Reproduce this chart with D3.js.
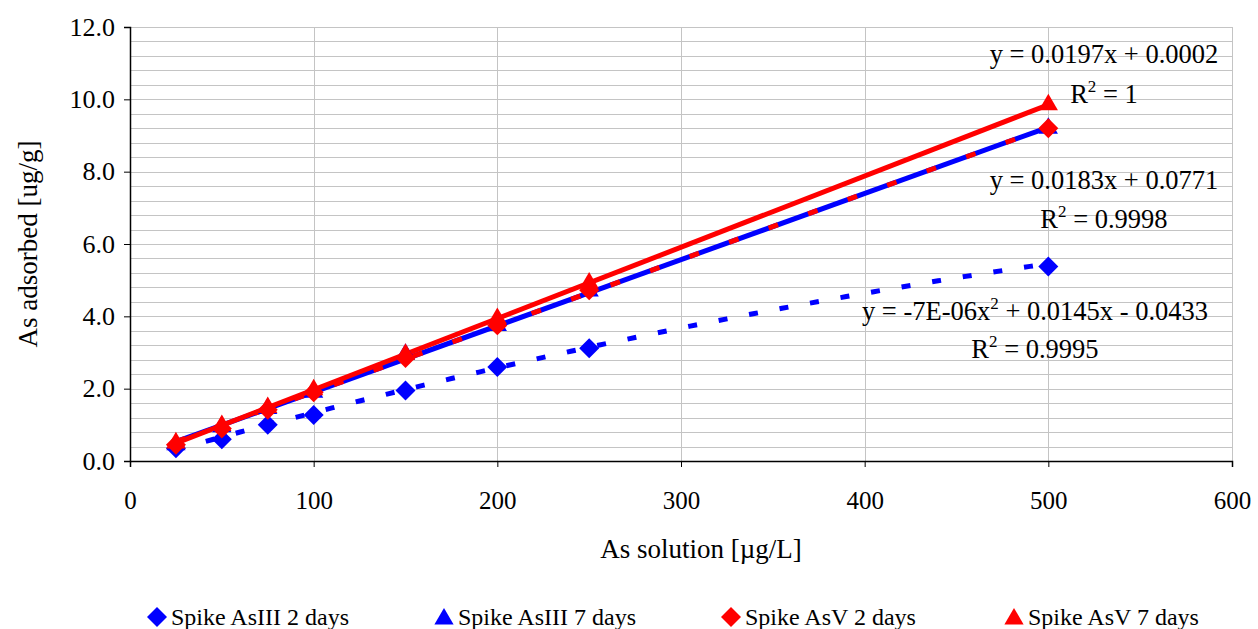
<!DOCTYPE html>
<html>
<head>
<meta charset="utf-8">
<script src="https://cdn.jsdelivr.net/npm/d3@7"></script>
<style>
  body { margin: 0; background: #fff; }
  text { font-family: "Liberation Serif", "Times New Roman", serif; fill: #000; }
</style>
</head>
<body>
<div class="vis-scatter"></div>
<script>
// concentrations in solution (ug/L)
var xValues = [25, 50, 75, 100, 150, 200, 250, 500];

// adsorbed amounts (ug/g)
var asIII2 = [0.35, 0.60, 1.00, 1.27, 1.95, 2.60, 3.12, 5.38];
var asIII7 = [0.45, 0.95, 1.45, 1.90, 2.95, 3.75, 4.70, 9.20];
var asV2   = [0.45, 0.90, 1.42, 1.90, 2.85, 3.75, 4.72, 9.20];
var asV7   = [0.50, 0.98, 1.48, 1.97, 2.95, 3.94, 4.92, 9.85];

var seriesNames = ["Spike AsIII 2 days", "Spike AsIII 7 days", "Spike AsV 2 days", "Spike AsV 7 days"];

var xTicks = [0, 100, 200, 300, 400, 500, 600];
var yTicks = [0, 2, 4, 6, 8, 10, 12];

// trendline coefficients, as printed on the chart
var polyAsIII2 = [-0.000007, 0.0145, -0.0433];
var linAsIII7 = [0.0183, 0.0771];
var linAsV2 = [0.0183, 0.0771];
var linAsV7 = [0.0197, 0.0002];

var W = 1258, H = 629;
var margin = {top: 27, right: 26, bottom: 168, left: 130};
var width = W - margin.left - margin.right,
    height = H - margin.top - margin.bottom;

var svg = d3.select('.vis-scatter').append('svg')
    .attr('width', W)
    .attr('height', H);

var g = svg.append('g')
    .attr('transform', 'translate(' + margin.left + ',' + margin.top + ')');

var x = d3.scaleLinear().domain([0, 600]).range([0, width]);
var y = d3.scaleLinear().domain([0, 12]).range([height, 0]);

// gridlines
g.append('g').selectAll('line')
    .data(d3.range(0.4, 12.01, 0.4))
    .enter().append('line')
    .attr('x1', 0).attr('x2', width)
    .attr('y1', function(d) { return Math.round(y(d)) + 0.5; })
    .attr('y2', function(d) { return Math.round(y(d)) + 0.5; })
    .attr('stroke', '#c4c4c4').attr('stroke-width', 1);

g.append('g').selectAll('line')
    .data(xTicks.slice(1))
    .enter().append('line')
    .attr('y1', 0).attr('y2', height)
    .attr('x1', function(d) { return Math.round(x(d)) + 0.5; })
    .attr('x2', function(d) { return Math.round(x(d)) + 0.5; })
    .attr('stroke', '#c4c4c4').attr('stroke-width', 1);

// axes
var yAxis = g.append('g')
    .call(d3.axisLeft(y).tickValues(yTicks).tickFormat(d3.format('.1f')).tickSize(6).tickPadding(9));
yAxis.selectAll('text').style('font-size', '26px');

var xAxis = g.append('g')
    .attr('transform', 'translate(0,' + height + ')')
    .call(d3.axisBottom(x).tickValues(xTicks).tickSize(6).tickPadding(24));
xAxis.selectAll('text').style('font-size', '25px');

[yAxis, xAxis].forEach(function(a) {
    a.attr('font-family', null);
    a.select('.domain').attr('stroke', '#000').attr('stroke-width', 1.5);
    a.selectAll('.tick line').attr('stroke', '#000');
    a.selectAll('text').attr('fill', '#000').style('font-family', '"Liberation Serif", serif');
});

// axis titles
svg.append('text')
    .attr('x', 701).attr('y', 558)
    .attr('text-anchor', 'middle')
    .style('font-size', '27px')
    .text('As solution [\u00b5g/L]');

svg.append('text')
    .attr('transform', 'translate(37,244) rotate(-90)')
    .attr('text-anchor', 'middle')
    .style('font-size', '27px')
    .text('As adsorbed [ug/g]');

// trendlines
var xMin = d3.min(xValues), xMax = d3.max(xValues);
var line = d3.line().x(function(d) { return x(d[0]); }).y(function(d) { return y(d[1]); });

function linPts(c) { return [xMin, xMax].map(function(v) { return [v, c[0] * v + c[1]]; }); }
function polyPts(c) {
    return d3.range(xMin, xMax + 0.1, 5).map(function(v) { return [v, c[0] * v * v + c[1] * v + c[2]]; });
}

g.append('path').datum(polyPts(polyAsIII2))
    .attr('d', line).attr('fill', 'none')
    .attr('stroke', '#0000ff').attr('stroke-width', 5)
    .attr('stroke-dasharray', '9,22');

g.append('path').datum(linPts(linAsIII7))
    .attr('d', line).attr('fill', 'none')
    .attr('stroke', '#0000ff').attr('stroke-width', 5);

g.append('path').datum(linPts(linAsV2))
    .attr('d', line).attr('fill', 'none')
    .attr('stroke', '#ff0000').attr('stroke-width', 5)
    .attr('stroke-dasharray', '10,32');

g.append('path').datum(linPts(linAsV7))
    .attr('d', line).attr('fill', 'none')
    .attr('stroke', '#ff0000').attr('stroke-width', 5);

// markers
var diamond = d3.symbol().type(d3.symbolSquare).size(200);
var triangle = d3.symbol().type(d3.symbolTriangle).size(160);

var series = [
    {name: seriesNames[0], values: asIII2, color: '#0000ff', shape: 'diamond'},
    {name: seriesNames[1], values: asIII7, color: '#0000ff', shape: 'triangle'},
    {name: seriesNames[2], values: asV2, color: '#ff0000', shape: 'diamond'},
    {name: seriesNames[3], values: asV7, color: '#ff0000', shape: 'triangle'}
];

function drawMarker(sel, s, px, py) {
    sel.append('path')
        .attr('d', s.shape === 'diamond' ? diamond() : triangle())
        .attr('transform', 'translate(' + px + ',' + py + ')' + (s.shape === 'diamond' ? ' rotate(45)' : ''))
        .attr('fill', s.color);
}

series.forEach(function(s) {
    var mg = g.append('g');
    s.values.forEach(function(v, i) {
        drawMarker(mg, s, x(xValues[i]), y(v));
    });
});

// trendline labels; parts are plain strings or {exp: '2'} for superscripts
function equation(cx, by, parts) {
    var t = svg.append('text')
        .attr('x', cx).attr('y', by)
        .attr('text-anchor', 'middle')
        .style('font-size', '26.5px');
    var raised = false;
    parts.forEach(function(p) {
        if (typeof p === 'string') {
            t.append('tspan').attr('dy', raised ? 11 : null).text(p);
            raised = false;
        } else {
            t.append('tspan').attr('dy', -11).style('font-size', '17px').text(p.exp);
            raised = true;
        }
    });
}

equation(1104, 63, ['y = 0.0197x + 0.0002']);
equation(1104, 103, ['R', {exp: '2'}, ' = 1']);
equation(1104, 189, ['y = 0.0183x + 0.0771']);
equation(1104, 228, ['R', {exp: '2'}, ' = 0.9998']);
equation(1035, 320, ['y = -7E-06x', {exp: '2'}, ' + 0.0145x - 0.0433']);
equation(1035, 358, ['R', {exp: '2'}, ' = 0.9995']);

// legend
var legendX = [157, 444, 731, 1014];
var legend = svg.append('g');
series.forEach(function(s, i) {
    drawMarker(legend, s, legendX[i], s.shape === 'diamond' ? 617 : 619);
    legend.append('text')
        .attr('x', legendX[i] + 14).attr('y', 625)
        .style('font-size', '24px')
        .text(s.name);
});
</script>
</body>
</html>
